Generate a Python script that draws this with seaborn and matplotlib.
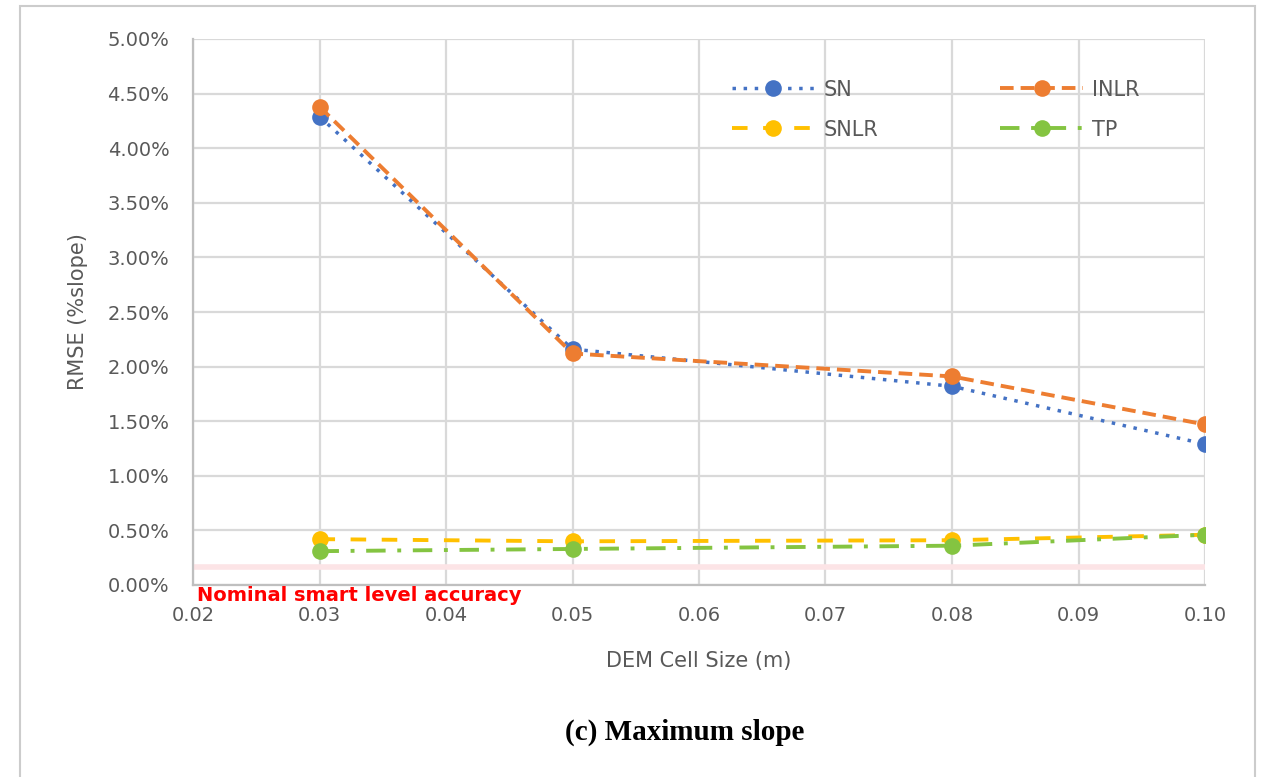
import matplotlib
matplotlib.use("Agg")
import matplotlib.pyplot as plt
import matplotlib.patches as mpatches
from matplotlib.ticker import MultipleLocator, FuncFormatter
import seaborn as sns
import pandas as pd

cell_size = [0.03, 0.05, 0.08, 0.10]
sn = [4.29, 2.16, 1.82, 1.29]
inlr = [4.38, 2.12, 1.91, 1.47]
snlr = [0.42, 0.40, 0.41, 0.46]
tp = [0.31, 0.33, 0.36, 0.46]
series_names = ["SN", "INLR", "SNLR", "TP"]
nominal = 0.165

sns.set_theme(style="white")
plt.rcParams['font.family'] = ['DejaVu Sans']

fig = plt.figure(figsize=(12.68, 7.77), dpi=100)
ax = fig.add_axes([193/1268, 1-585/777, (1205-193)/1268, (585-39)/777])

styles = {
    "SN": dict(color="#4472C4", linestyle=(0, (1, 2.2)), linewidth=2.5),
    "INLR": dict(color="#ED7D31", linestyle=(0, (3.5, 1.8)), linewidth=2.8),
    "SNLR": dict(color="#FFC000", linestyle=(0, (4, 4)), linewidth=2.8),
    "TP": dict(color="#84C441", linestyle=(0, (5, 3, 1, 3)), linewidth=2.8),
}
data = {"SN": sn, "INLR": inlr, "SNLR": snlr, "TP": tp}

for name in series_names:
    df = pd.DataFrame({"x": cell_size, "y": data[name]})
    st = styles[name]
    sns.lineplot(data=df, x="x", y="y", ax=ax, color=st["color"],
                 linestyle=st["linestyle"], linewidth=st["linewidth"],
                 marker="o", markersize=12, markeredgewidth=0,
                 label=name, zorder=3)

ax.axhline(nominal, color="#FCE4E6", linewidth=4, zorder=1)

ax.set_xlim(0.02, 0.10)
ax.set_ylim(0, 5.0)
ax.xaxis.set_major_locator(MultipleLocator(0.01))
ax.xaxis.set_minor_locator(MultipleLocator(0.002))
ax.yaxis.set_major_locator(MultipleLocator(0.5))
ax.yaxis.set_minor_locator(MultipleLocator(0.1))
ax.xaxis.set_major_formatter(FuncFormatter(lambda v, p: f"{v:.2f}"))
ax.yaxis.set_major_formatter(FuncFormatter(lambda v, p: f"{v:.2f}%"))

ax.grid(True, which="major", color="#D9D9D9", linewidth=1.6, zorder=0)
ax.set_axisbelow(True)
for s in ["top", "right"]:
    ax.spines[s].set_visible(False)
for s in ["left", "bottom"]:
    ax.spines[s].set_color("#BFBFBF")
    ax.spines[s].set_linewidth(1.6)

ax.tick_params(axis="both", which="both", direction="in", color="#BFBFBF",
               labelcolor="#595959", labelsize=14)
ax.tick_params(which="major", length=6, width=1.2)
ax.tick_params(axis="x", which="major", pad=15)
ax.tick_params(axis="y", which="major", pad=17)
ax.tick_params(which="minor", length=4, width=1.2)

ax.set_xlabel("DEM Cell Size (m)", fontsize=15, color="#595959", labelpad=19)
ax.set_ylabel("RMSE (%slope)", fontsize=15, color="#595959", labelpad=14)

ax.text(0.0203, -0.01, "Nominal smart level accuracy", color="#FF0000",
        fontsize=14, fontweight="bold", ha="left", va="top", clip_on=False, zorder=5)

handles, labels = ax.get_legend_handles_labels()
order = [0, 2, 1, 3]
leg = ax.legend([handles[i] for i in order], [labels[i] for i in order],
                loc="upper left", bbox_to_anchor=(713/1268, 1-61/777),
                bbox_transform=fig.transFigure, ncol=2, frameon=False,
                fontsize=15, handlelength=4.0, columnspacing=5.85,
                labelspacing=0.95, handletextpad=0.4, numpoints=1)
for t in leg.get_texts():
    t.set_color("#595959")

fig.text(685/1268, 1-732/777, "(c) Maximum slope", fontsize=21, fontweight="bold",
         family="Liberation Serif", ha="center", va="center", color="black")

fig.patches.append(mpatches.Rectangle((20/1268, -0.05), (1255-20)/1268, 1.05-6/777,
                                      transform=fig.transFigure, fill=False,
                                      edgecolor="#CCCCCC", linewidth=1.5))

fig.savefig("out.png", dpi=100)
